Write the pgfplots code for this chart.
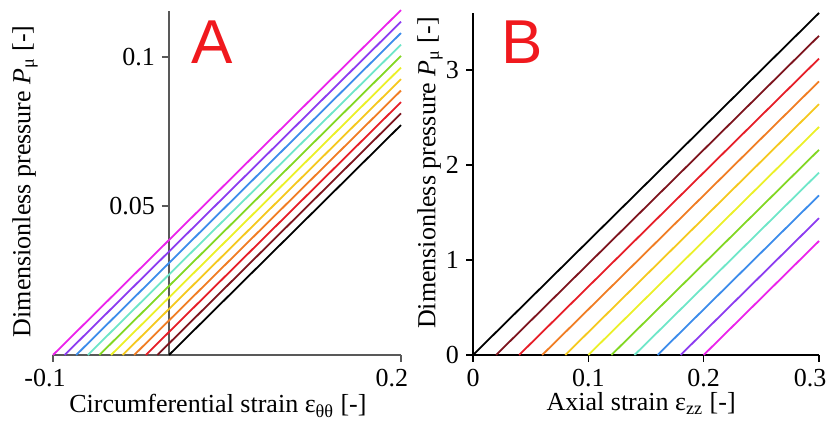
\documentclass[border=0pt]{standalone}
\usepackage{pgfplots}
\pgfplotsset{compat=1.18}
\usepackage{fontspec}
\setmainfont{Liberation Serif}
\newfontfamily\arialfont{Liberation Sans}
\definecolor{k0}{RGB}{0,0,0}
\definecolor{k1}{RGB}{125,20,30}
\definecolor{k2}{RGB}{230,30,40}
\definecolor{k3}{RGB}{240,125,35}
\definecolor{k4}{RGB}{245,200,30}
\definecolor{k5}{RGB}{235,240,40}
\definecolor{k6}{RGB}{130,215,35}
\definecolor{k7}{RGB}{110,230,200}
\definecolor{k8}{RGB}{60,140,235}
\definecolor{k9}{RGB}{140,60,240}
\definecolor{k10}{RGB}{235,35,235}
\definecolor{lblred}{RGB}{240,25,30}
\begin{document}
\begin{tikzpicture}
\useasboundingbox (-26.5pt,-33pt) rectangle (388pt,177.5pt);
\begin{axis}[at={(0,0)}, anchor=south west, scale only axis, width=174pt, height=172pt,
 xmin=-0.1, xmax=0.2, ymin=0, ymax=0.1155,
 axis x line=bottom, axis y line=middle,
 axis line style={-, black!65, line width=0.8pt},
 every inner y axis line/.append style={-},
 every outer x axis line/.append style={-},
 xtick={-0.1,0.2}, xticklabels={{\makebox[0pt]{\hspace{-8pt}-0.1}},{\makebox[0pt]{\hspace{-9pt}0.2}}},
 ytick={0.05,0.1}, yticklabels={0.05,0.1},
 tick align=outside, major tick length=3.5pt,
 tick style={black!65, line width=0.8pt},
 tick label style={font=\fontsize{13}{15}\selectfont},
 every axis y label/.style={at={(rel axis cs:-0.0805,0.505)}, rotate=90, anchor=center, font=\fontsize{13}{15}\selectfont},
 every axis x label/.style={at={(rel axis cs:0.474,-0.148)}, anchor=center, font=\fontsize{13}{15}\selectfont},
 ylabel={Dimensionless pressure \textit{P}\textsubscript{μ} [-]},
 xlabel={Circumferential strain ε\textsubscript{θθ} [-]},
 clip=false]
\addplot[k0, line width=0.9pt] coordinates {(0,0) (0.2,0.0772)};
\addplot[k1, line width=0.9pt] coordinates {(-0.01,0) (0.2,0.0811)};
\addplot[k2, line width=0.9pt] coordinates {(-0.02,0) (0.2,0.0849)};
\addplot[k3, line width=0.9pt] coordinates {(-0.03,0) (0.2,0.0888)};
\addplot[k4, line width=0.9pt] coordinates {(-0.04,0) (0.2,0.0926)};
\addplot[k5, line width=0.9pt] coordinates {(-0.05,0) (0.2,0.0965)};
\addplot[k6, line width=0.9pt] coordinates {(-0.06,0) (0.2,0.1004)};
\addplot[k7, line width=0.9pt] coordinates {(-0.07,0) (0.2,0.1042)};
\addplot[k8, line width=0.9pt] coordinates {(-0.08,0) (0.2,0.1081)};
\addplot[k9, line width=0.9pt] coordinates {(-0.09,0) (0.2,0.1119)};
\addplot[k10, line width=0.9pt] coordinates {(-0.10,0) (0.2,0.1158)};
\node[text=lblred, font=\arialfont\fontsize{31}{31}\selectfont] at (axis cs:0.037,0.105) {A};
\end{axis}
\begin{axis}[at={(210pt,0)}, anchor=south west, scale only axis, width=173pt, height=171pt,
 xmin=0, xmax=0.3, ymin=0, ymax=3.6,
 axis x line=bottom, axis y line=left,
 axis line style={-, black, line width=0.8pt},
 every outer x axis line/.append style={-},
 every outer y axis line/.append style={-},
 xtick={0,0.1,0.2,0.3}, xticklabels={0,0.1,0.2,{\makebox[0pt]{\hspace{-9pt}0.3}}},
 ytick={0,1,2,3}, yticklabels={0,1,2,3},
 tick align=outside, major tick length=3.5pt,
 tick style={black, line width=0.8pt},
 tick label style={font=\fontsize{13}{15}\selectfont},
 every axis y label/.style={at={(rel axis cs:-0.124,0.532)}, rotate=90, anchor=center, font=\fontsize{13}{15}\selectfont},
 every axis x label/.style={at={(rel axis cs:0.486,-0.142)}, anchor=center, font=\fontsize{13}{15}\selectfont},
 ylabel={Dimensionless pressure \textit{P}\textsubscript{μ} [-]},
 xlabel={Axial strain ε\textsubscript{zz} [-]},
 clip=false]
\addplot[k0, line width=0.9pt] coordinates {(0,0) (0.3,3.6)};
\addplot[k1, line width=0.9pt] coordinates {(0.02,0) (0.3,3.36)};
\addplot[k2, line width=0.9pt] coordinates {(0.04,0) (0.3,3.12)};
\addplot[k3, line width=0.9pt] coordinates {(0.06,0) (0.3,2.88)};
\addplot[k4, line width=0.9pt] coordinates {(0.08,0) (0.3,2.64)};
\addplot[k5, line width=0.9pt] coordinates {(0.10,0) (0.3,2.40)};
\addplot[k6, line width=0.9pt] coordinates {(0.12,0) (0.3,2.16)};
\addplot[k7, line width=0.9pt] coordinates {(0.14,0) (0.3,1.92)};
\addplot[k8, line width=0.9pt] coordinates {(0.16,0) (0.3,1.68)};
\addplot[k9, line width=0.9pt] coordinates {(0.18,0) (0.3,1.44)};
\addplot[k10, line width=0.9pt] coordinates {(0.20,0) (0.3,1.20)};
\node[text=lblred, font=\arialfont\fontsize{31}{31}\selectfont] at (axis cs:0.0425,3.29) {B};
\end{axis}
\end{tikzpicture}
\end{document}
